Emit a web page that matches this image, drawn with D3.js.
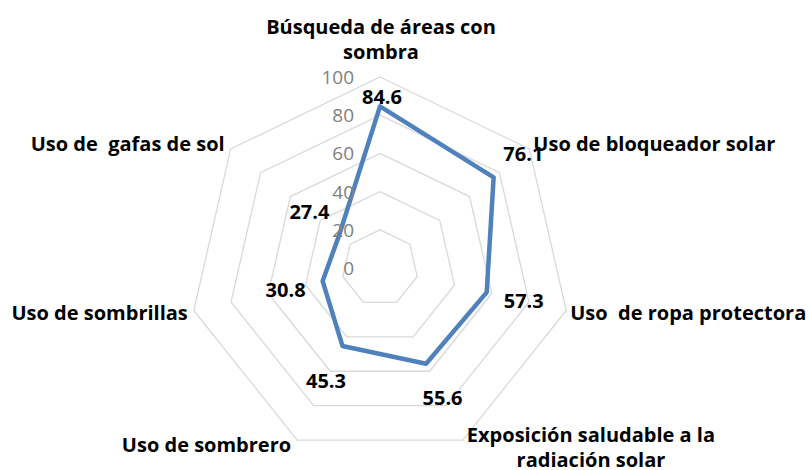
<!DOCTYPE html>
<html><head><meta charset="utf-8">
<script src="https://cdn.jsdelivr.net/npm/d3@7"></script>
<style>body{margin:0;background:#fff}</style>
</head><body>
<svg id="chart" width="811" height="470"></svg>
<script>
const categories = [
  ["Búsqueda de áreas con", "sombra"],
  ["Uso de bloqueador solar"],
  ["Uso  de ropa protectora"],
  ["Exposición saludable a la", "radiación solar"],
  ["Uso de sombrero"],
  ["Uso de sombrillas"],
  ["Uso de  gafas de sol"]
];
const values = [84.6, 76.1, 57.3, 55.6, 45.3, 30.8, 27.4];
const tickValues = [0, 20, 40, 60, 80, 100];

const cx = 380, cy = 268, R = 191;
const FONT = "'Open Sans', sans-serif";
const svg = d3.select("#chart");
const n = categories.length;
const rScale = d3.scaleLinear().domain([0, 100]).range([0, R]);
const aScale = d3.scaleLinear().domain([0, n]).range([0, 2 * Math.PI]);
const g = svg.append("g").attr("transform", `translate(${cx},${cy})`);
const pt = (i, v) => {
  const a = aScale(i), r = rScale(v);
  return [r * Math.sin(a), -r * Math.cos(a)];
};

// grid
const radial = d3.lineRadial().curve(d3.curveLinearClosed);
tickValues.filter(t => t > 0).forEach(t => {
  g.append("path")
    .attr("d", radial(d3.range(n).map(i => [aScale(i), rScale(t)])))
    .attr("fill", "none").attr("stroke", "#d9d9d9").attr("stroke-width", 1.3);
});

// series
g.append("path")
  .attr("d", radial(values.map((v, i) => [aScale(i), rScale(v)])))
  .attr("fill", "none").attr("stroke", "#4f81bd").attr("stroke-width", 4.5)
  .attr("stroke-linejoin", "round");

// tick labels
g.selectAll(".tick").data(tickValues).join("text")
  .attr("x", -26).attr("y", d => -rScale(d))
  .attr("text-anchor", "end").attr("dominant-baseline", "central")
  .attr("fill", "#7f7f7f").attr("font-family", FONT).attr("font-size", 19)
  .text(d => d);

// data labels
values.forEach((v, i) => {
  const [x, y] = pt(i, v);
  const a = aScale(i);
  const dx = Math.sin(a), dy = -Math.cos(a);
  const top = Math.abs(dx) < 0.1;
  const d = top ? 10 : 38;
  g.append("text")
    .attr("x", x + dx * d + (top ? 2 : 0)).attr("y", y + dy * d)
    .attr("text-anchor", "middle").attr("dominant-baseline", "central")
    .attr("font-family", FONT).attr("font-weight", "bold").attr("font-size", 20)
    .attr("fill", "#000").text(v.toFixed(1));
});

// category labels
const lineH = 25;
categories.forEach((lines, i) => {
  const [vx, vy] = pt(i, 100);
  const a = aScale(i);
  const dx = Math.sin(a), dy = -Math.cos(a);
  const t = g.append("g");
  const texts = lines.map(l => t.append("text").style("white-space", "pre")
    .attr("font-family", FONT).attr("font-weight", "bold").attr("font-size", 20)
    .attr("fill", "#000").attr("text-anchor", "middle").attr("dominant-baseline", "central")
    .text(l));
  const widths = texts.map(s => s.node().getComputedTextLength());
  const bw = d3.max(widths);
  let bx;
  if (dx > 0.1) bx = vx + 4 + bw / 2;
  else if (dx < -0.1) bx = vx - 6 - bw / 2;
  else bx = vx + 1;
  let y0;
  if (Math.abs(dx) < 0.1) y0 = vy - 13 - (lines.length - 0.5) * lineH;
  else if (dy > 0.5) y0 = lines.length > 1 ? vy - 6 : vy + dy * 5;
  else y0 = vy + dy * 8;
  texts.forEach((s, j) => s.attr("x", bx).attr("y", y0 + j * lineH));
});
</script>
</body></html>
